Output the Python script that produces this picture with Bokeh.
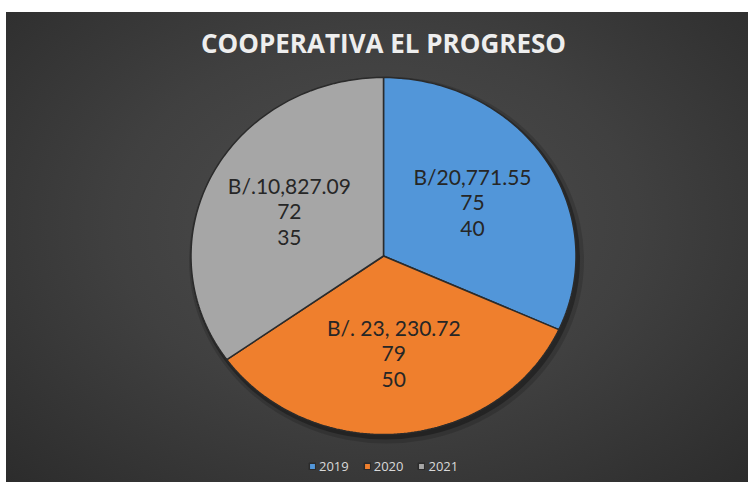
import numpy as np
from bokeh.plotting import figure
from bokeh.models import Range1d, Legend, LegendItem, ColumnDataSource, Spacer
from bokeh.layouts import column, row
from bokeh.core.properties import value
from bokeh.embed import file_html
from bokeh.resources import INLINE

# ---- data ----
years = ["2019", "2020", "2021"]
shares = [31.8, 33.4, 34.9]          # estimated slice sizes (%)
amount_labels = ["B/20,771.55", "B/. 23, 230.72", "B/.10,827.09"]
count_a = ["75", "79", "72"]
count_b = ["40", "50", "35"]
colors = ["#5296d9", "#ef7f2d", "#a6a6a6"]
title_text = "COOPERATIVA EL PROGRESO"

# ---- layout constants ----
LEFT, TOP = 6, 12
W, H = 748 - LEFT, 482 - TOP
cx, cy, rx, ry = 383.0, 255.5, 192.5, 178.5
label_frac = 0.55

p = figure(width=W, height=H, x_range=Range1d(LEFT, 748), y_range=Range1d(482, TOP),
           output_backend="svg", toolbar_location=None,
           x_axis_type=None, y_axis_type=None, min_border=0)
p.grid.visible = False
p.outline_line_color = None
p.background_fill_alpha = 0
p.border_fill_alpha = 0
p.styles = {"background": "radial-gradient(ellipse at 50% 45%, #4e4e4e 0%, #404040 50%, #2c2c2c 100%)"}

# pie shadow
p.ellipse(x=[cx + 3], y=[cy + 4], width=[2 * rx + 10], height=[2 * ry + 10],
          fill_color="black", fill_alpha=0.15, line_color=None)
p.ellipse(x=[cx + 2], y=[cy + 3], width=[2 * rx + 4], height=[2 * ry + 4],
          fill_color="black", fill_alpha=0.3, line_color=None)

# slices
total = float(sum(shares))
cum = np.cumsum([0.0] + list(shares))
starts = np.radians(90.0 - cum[:-1] / total * 360.0)
ends = np.radians(90.0 - cum[1:] / total * 360.0)

xs, ys, lx, ly = [], [], [], []
for a0, a1 in zip(starts, ends):
    t = np.linspace(a0, a1, 120)
    xs.append([cx] + list(cx + rx * np.cos(t)))
    ys.append([cy] + list(cy - ry * np.sin(t)))
    mid = (a0 + a1) / 2.0
    lx.append(cx + label_frac * rx * np.cos(mid))
    ly.append(cy - label_frac * ry * np.sin(mid))

src = ColumnDataSource(dict(xs=xs, ys=ys, color=colors, year=years,
                            lx=lx, ly=ly, amt=amount_labels, a=count_a, b=count_b))
r = p.patches(xs="xs", ys="ys", fill_color="color", line_color="#2b2b2b",
              line_width=1.5, source=src)

# labels
for col, off in (("amt", -26), ("a", 0), ("b", 26)):
    p.text(x="lx", y="ly", text=col, source=src, y_offset=off,
           text_align="center", text_baseline="middle",
           text_font=value("Lato"), text_font_size="21px", text_color="#262626")

# title
p.text(x=[cx], y=[42], text=[title_text], text_align="center", text_baseline="middle",
       text_font=value("Open Sans"), text_font_style="bold", text_font_size="26px",
       text_color="#eeeeee")

# legend
items = [LegendItem(label=years[i], renderers=[r], index=i) for i in range(len(years))]
legend = Legend(items=items, orientation="horizontal", location=(302, 7),
                glyph_width=8, glyph_height=8, label_standoff=3, spacing=14,
                padding=0, margin=0, background_fill_alpha=0, border_line_alpha=0,
                label_text_color="#d9d9d9", label_text_font_size="13px",
                label_text_font="Open Sans")
p.add_layout(legend)

layout = row(Spacer(width=LEFT, height=482), column(Spacer(width=W, height=TOP), p))
open("out.html", "w").write(file_html(layout, INLINE))
